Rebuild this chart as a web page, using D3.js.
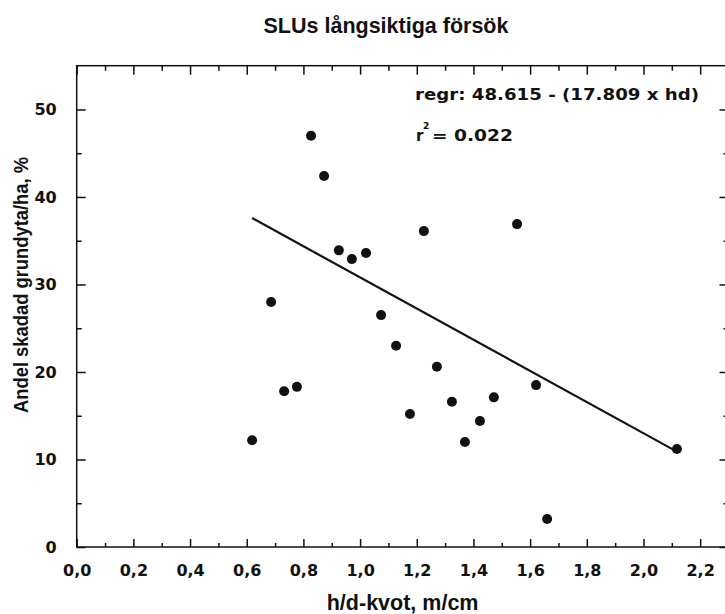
<!DOCTYPE html>
<html>
<head>
<meta charset="utf-8">
<script src="https://cdn.jsdelivr.net/npm/d3@7/dist/d3.min.js"></script>
<style>
  html, body { margin: 0; padding: 0; background: #fff; }
  svg { display: block; }
</style>
</head>
<body>
<script>
// ---- data ----
const titleText = "SLUs långsiktiga försök";
const xTitle = "h/d-kvot, m/cm";
const yTitle = "Andel skadad grundyta/ha, %";
const hdRatio = [0.619, 0.686, 0.732, 0.777, 0.827, 0.873, 0.925, 0.971, 1.021, 1.074, 1.127,
                 1.176, 1.225, 1.271, 1.324, 1.370, 1.423, 1.472, 1.554, 1.621, 1.660, 2.118];
const damagedShare = [12.2, 28.0, 17.8, 18.3, 47.0, 42.4, 33.9, 32.9, 33.6, 26.5, 23.0,
                      15.2, 36.1, 20.6, 16.6, 12.0, 14.4, 17.1, 36.9, 18.5, 3.2, 11.2];
const regrIntercept = 48.615;
const regrSlope = -17.809;
const rSquared = "0.022";
const xMajorTicks = [0, 0.2, 0.4, 0.6, 0.8, 1.0, 1.2, 1.4, 1.6, 1.8, 2.0, 2.2];
const xMinorTicks = [0.1, 0.3, 0.5, 0.7, 0.9, 1.1, 1.3, 1.5, 1.7, 1.9, 2.1];
const yMajorTicks = [0, 10, 20, 30, 40, 50];
const yMinorTicks = [5, 15, 25, 35, 45];

// ---- layout ----
const W = 725, H = 614;
const svg = d3.select("body").append("svg").attr("width", W).attr("height", H);
const xScale = d3.scaleLinear().domain([0, 2.3]).range([76.7, 728.5]);
const yScale = d3.scaleLinear().domain([0, 55]).range([547, 65.7]);
const ink = "#111";
const tickFont = "'DejaVu Sans', sans-serif";
const titleFont = "'Liberation Sans', Arial, sans-serif";

// frame
svg.append("rect")
  .attr("x", xScale(0)).attr("y", yScale(55))
  .attr("width", xScale(2.3) - xScale(0)).attr("height", yScale(0) - yScale(55))
  .attr("fill", "none").attr("stroke", ink).attr("stroke-width", 1.5);

// axes with inward ticks
const fmtX = d => d3.format(".1f")(d).replace(".", ",");
function addAxis(axisGen, tx, ty) {
  return svg.append("g").attr("transform", `translate(${tx},${ty})`).call(axisGen);
}
addAxis(d3.axisBottom(xScale).tickValues(xMajorTicks).tickSize(-8).tickFormat(fmtX).tickPadding(18), 0, yScale(0));
addAxis(d3.axisBottom(xScale).tickValues(xMinorTicks).tickSize(-4).tickFormat(""), 0, yScale(0));
addAxis(d3.axisTop(xScale).tickValues(xMajorTicks).tickSize(-9).tickFormat(""), 0, yScale(55));
addAxis(d3.axisTop(xScale).tickValues(xMinorTicks).tickSize(-5).tickFormat(""), 0, yScale(55));
addAxis(d3.axisLeft(yScale).tickValues(yMajorTicks).tickSize(-9).tickFormat(d3.format("d")).tickPadding(20), xScale(0), 0);
addAxis(d3.axisLeft(yScale).tickValues(yMinorTicks).tickSize(-5).tickFormat(""), xScale(0), 0);
addAxis(d3.axisRight(yScale).tickValues(yMajorTicks).tickSize(-9).tickFormat(""), xScale(2.3), 0);
addAxis(d3.axisRight(yScale).tickValues(yMinorTicks).tickSize(-5).tickFormat(""), xScale(2.3), 0);

svg.selectAll(".domain").remove();
svg.selectAll(".tick line").attr("stroke", ink).attr("stroke-width", 1.5);
svg.selectAll(".tick text")
  .attr("fill", ink)
  .style("font-family", tickFont)
  .style("font-weight", "bold")
  .style("font-size", "16px");

// regression line
const xLo = d3.min(hdRatio), xHi = d3.max(hdRatio);
svg.append("line")
  .attr("x1", xScale(xLo)).attr("y1", yScale(regrIntercept + regrSlope * xLo))
  .attr("x2", xScale(xHi)).attr("y2", yScale(regrIntercept + regrSlope * xHi))
  .attr("stroke", ink).attr("stroke-width", 2.2);

// points
svg.append("g").selectAll("circle")
  .data(hdRatio.map((v, i) => [v, damagedShare[i]]))
  .join("circle")
  .attr("cx", d => xScale(d[0])).attr("cy", d => yScale(d[1]))
  .attr("r", 5).attr("fill", ink);

// annotation
svg.append("text")
  .attr("x", 415).attr("y", 100)
  .attr("textLength", 284).attr("lengthAdjust", "spacingAndGlyphs")
  .style("font-family", tickFont).style("font-weight", "bold").style("font-size", "15px")
  .attr("fill", ink)
  .text(`regr: ${regrIntercept} - (${Math.abs(regrSlope)} x hd)`);
svg.append("text")
  .attr("x", 416).attr("y", 141)
  .style("font-family", tickFont).style("font-weight", "bold").style("font-size", "15px")
  .attr("fill", ink).text("r");
svg.append("text")
  .attr("x", 423).attr("y", 129)
  .style("font-family", tickFont).style("font-weight", "bold").style("font-size", "9px")
  .attr("fill", ink).text("2");
svg.append("text")
  .attr("x", 432).attr("y", 141)
  .attr("textLength", 81).attr("lengthAdjust", "spacingAndGlyphs")
  .style("font-family", tickFont).style("font-weight", "bold").style("font-size", "15px")
  .attr("fill", ink).text(`= ${rSquared}`);

// titles
svg.append("text")
  .attr("x", 386).attr("y", 32.7).attr("text-anchor", "middle")
  .style("font-family", titleFont).style("font-weight", "bold").style("font-size", "21.5px")
  .attr("fill", ink).text(titleText);
svg.append("text")
  .attr("x", (xScale(0) + xScale(2.3)) / 2).attr("y", 610).attr("text-anchor", "middle")
  .style("font-family", titleFont).style("font-weight", "bold").style("font-size", "21.5px")
  .attr("fill", ink).text(xTitle);
svg.append("text")
  .attr("transform", "translate(28,285) rotate(-90)")
  .attr("text-anchor", "middle")
  .attr("textLength", 256).attr("lengthAdjust", "spacingAndGlyphs")
  .style("font-family", titleFont).style("font-weight", "bold").style("font-size", "21px")
  .attr("fill", ink).text(yTitle);
</script>
</body>
</html>
